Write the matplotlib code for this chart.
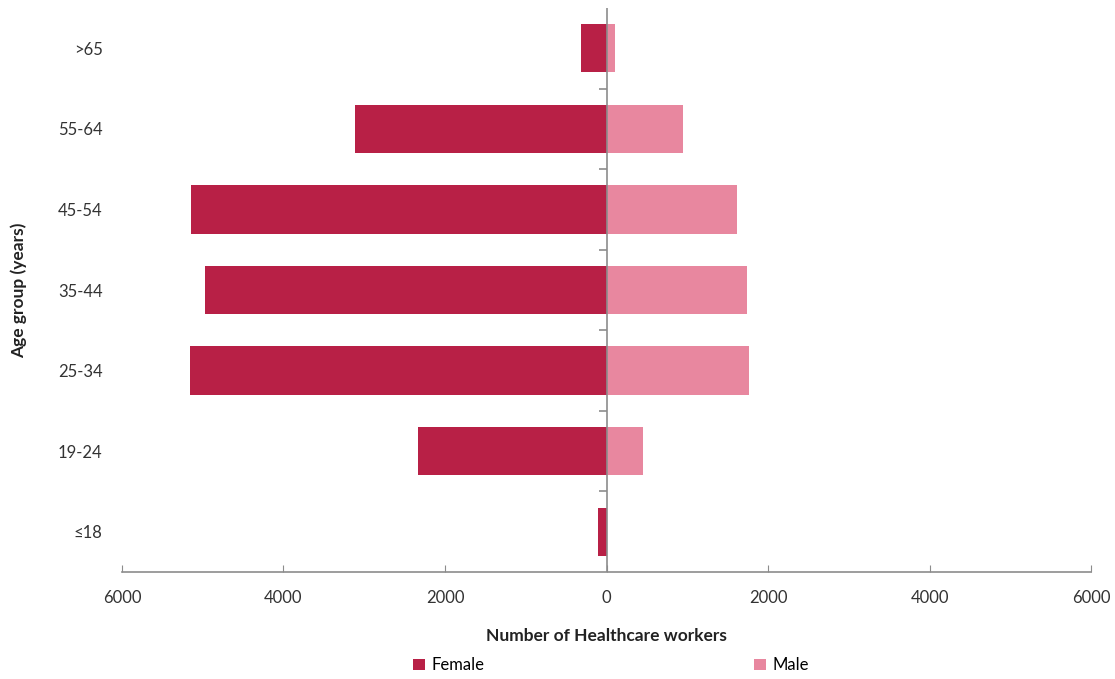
import matplotlib
matplotlib.use("Agg")
import matplotlib.pyplot as plt
import numpy as np

age_groups = ["≤18", "19-24", "25-34", "35-44", "45-54", "55-64", ">65"]
female = [100, 2340, 5160, 4970, 5140, 3120, 310]
male = [0, 450, 1760, 1740, 1610, 950, 100]
x_ticks = [-6000, -4000, -2000, 0, 2000, 4000, 6000]
x_tick_labels = ["6000", "4000", "2000", "0", "2000", "4000", "6000"]

female_color = "#B82046"
male_color = "#E8879F"
axis_gray = "#8C8C8C"

plt.rcParams['font.family'] = ['Lato', 'DejaVu Sans']

fig = plt.figure(figsize=(11.15, 6.79), dpi=100)
ax = fig.add_axes([0.1094, 0.1576, 0.8691, 0.8306])

y = np.arange(len(age_groups))
ax.barh(y, [-v for v in female], height=0.6, color=female_color, label="Female", zorder=2)
ax.barh(y, male, height=0.6, color=male_color, label="Male", zorder=2)

ax.set_xlim(-6000, 6000)
ax.set_ylim(-0.5, len(age_groups) - 0.5)
ax.set_xticks(x_ticks)
ax.set_xticklabels(x_tick_labels, fontsize=12, color="#333333")
ax.tick_params(axis="x", direction="in", length=5, color=axis_gray, pad=13)
ax.set_yticks(y)
ax.set_yticklabels(age_groups, fontsize=12, color="#333333")
ax.tick_params(axis="y", length=0, pad=14)

for s in ["top", "right", "left"]:
    ax.spines[s].set_visible(False)
ax.spines["bottom"].set_color(axis_gray)
ax.spines["bottom"].set_linewidth(1.2)

# vertical zero axis with ticks at category boundaries (pointing left)
ax.axvline(0, color=axis_gray, linewidth=1.2, zorder=3)
sec = ax.secondary_yaxis(0.5)
sec.set_yticks(np.arange(0.5, len(age_groups) - 1, 1.0))
sec.set_yticklabels([])
sec.tick_params(axis="y", direction="in", length=6, color=axis_gray, width=1.2)
for s in sec.spines.values():
    s.set_visible(False)

ax.set_xlabel("Number of Healthcare workers", fontsize=12.5, fontweight="bold",
              color="#222222", labelpad=16)
ax.set_ylabel("Age group (years)", fontsize=12.5, fontweight="bold",
              color="#222222", labelpad=22)

handles, labels = ax.get_legend_handles_labels()
fig.legend(handles, labels, loc="center", bbox_to_anchor=(0.548, 0.02),
           ncol=2, frameon=False, fontsize=12, handlelength=0.7,
           handleheight=0.7, handletextpad=0.4, columnspacing=16.2)

fig.savefig("out.png", dpi=100)
